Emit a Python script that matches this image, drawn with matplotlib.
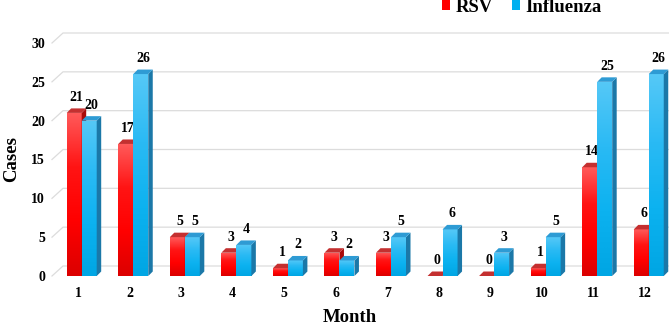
import numpy as np
import matplotlib
matplotlib.use("Agg")
import matplotlib.pyplot as plt
from matplotlib.patches import Polygon, Patch, Rectangle
from matplotlib.colors import LinearSegmentedColormap

# ---- data ----
months = [str(i) for i in range(1, 13)]
rsv = [21, 17, 5, 3, 1, 3, 3, 0, 0, 1, 14, 6]
flu = [20, 26, 5, 4, 2, 2, 5, 6, 3, 5, 25, 26]
yticks = [0, 5, 10, 15, 20, 25, 30]
series_names = ["RSV", "Influenza"]

plt.rcParams['font.family'] = ['Liberation Serif', 'DejaVu Serif']
plt.rcParams['font.weight'] = 'bold'

W, H = 669, 328
fig = plt.figure(figsize=(W / 100, H / 100), dpi=100)
ax = fig.add_axes([52 / W, 52 / H, 617 / W, 233 / H])
PXX = 51.55   # pixels per category
PXY = 233 / 30  # pixels per case
xs = np.arange(1, 13)
ax.set_xlim(1 - 26 / PXX, 1 - 26 / PXX + 617 / PXX)
ax.set_ylim(0, 30)

# depth offsets (style)
DX, DY = 4.5 / PXX, 4.5 / PXY
GDX, GDY = 11 / PXX, 10 / PXY
BW = 15 / PXX
OFF = [-11.3 / PXX, 3.7 / PXX]

x0l, x1l = ax.get_xlim()
grid_c = '#DCDCDC'
for yv in yticks:
    ax.plot([x0l, x0l + GDX, x1l + 1], [yv, yv + GDY, yv + GDY], color=grid_c,
            lw=0.9, clip_on=False, zorder=0)

styles = [
    dict(grad=['#FF5A5A', '#FF1414', '#FF0000', '#DC0000'], side='#A80A0A', cap='#C43030'),
    dict(grad=['#55C8F7', '#2ABAF4', '#0CB2F0', '#00A6E4'], side='#1B78A8', cap='#2E9BD4'),
]

z = 2
for i, m in enumerate(xs):
    for s, vals in enumerate([rsv, flu]):
        v = vals[i]
        st = styles[s]
        xa = m + OFF[s]
        xb = xa + BW
        if v > 0:
            cmap = LinearSegmentedColormap.from_list('g', st['grad'][::-1])
            grad = np.linspace(0, 1, 64).reshape(-1, 1)
            rect = Rectangle((xa, 0), BW, v, facecolor='none', edgecolor='none', zorder=z)
            ax.add_patch(rect)
            im = ax.imshow(grad, cmap=cmap, origin='lower', extent=[xa, xb, 0, v],
                           aspect='auto', zorder=z, interpolation='bilinear')
            im.set_clip_path(rect)
            side = Polygon([(xb, 0), (xb + DX, DY), (xb + DX, v + DY), (xb, v)],
                           closed=True, facecolor=st['side'], edgecolor='none', zorder=z)
            ax.add_patch(side)
        top = Polygon([(xa, v), (xb, v), (xb + DX, v + DY), (xa + DX, v + DY)],
                      closed=True, facecolor=st['cap'], edgecolor='none', zorder=z + 0.5)
        ax.add_patch(top)
        ax.annotate(str(v), (xa + BW / 2 + DX / 2, v + DY), xytext=(0, 3.3),
                    textcoords='offset points', ha='center', va='bottom',
                    fontsize=10, fontweight='bold', zorder=z + 1)
        z += 1

ax.set_xlim(x0l, x1l)
ax.set_ylim(0, 30)
ax.set_xticks(xs)
ax.set_xticklabels(months)
ax.set_yticks(yticks)
ax.tick_params(axis='both', length=0, labelsize=10)
ax.tick_params(axis='y', pad=5)
ax.tick_params(axis='x', pad=8)
for lbl in ax.get_xticklabels() + ax.get_yticklabels():
    lbl.set_fontweight('bold')
for sp in ax.spines.values():
    sp.set_visible(False)
ax.patch.set_visible(False)

ax.set_xlabel('Month', fontsize=13.5, fontweight='bold')
ax.set_ylabel('Cases', fontsize=13.5, fontweight='bold')
ax.xaxis.set_label_coords((350 - 52) / 617, -(318 - 276) / 233)
ax.yaxis.set_label_coords(-(52 - 12) / 617, 0.5)
ax.xaxis.label.set_va('center')
ax.yaxis.label.set_va('center')

handles = [Patch(facecolor='#FF0000', edgecolor='none'),
           Patch(facecolor='#00B0F0', edgecolor='none')]
leg = fig.legend(handles, series_names, loc='center', bbox_to_anchor=(0.78, 1 - 7.5 / H),
                 ncol=2, frameon=False, handlelength=0.45, handleheight=0.45,
                 handletextpad=0.3, columnspacing=1.0, borderpad=0, fontsize=13.5)
for t in leg.get_texts():
    t.set_fontweight('bold')

fig.savefig('out.png', dpi=100)
